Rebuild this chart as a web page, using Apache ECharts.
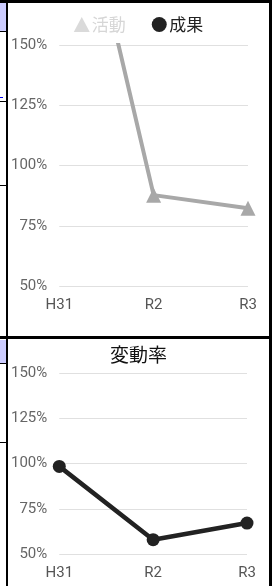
<!DOCTYPE html>
<html>
<head>
<meta charset="utf-8">
<script src="https://cdn.jsdelivr.net/npm/echarts@6/dist/echarts.min.js"></script>
<style>
  html, body { margin: 0; padding: 0; background: #fff; }
  #page { position: relative; width: 272px; height: 586px; overflow: hidden; }
  .bk { position: absolute; background: #000; }
  .cell { position: absolute; left: 0; width: 6px; background: #ccccff; }
  .thin { position: absolute; left: 0; width: 6px; height: 1px; background: #000; }
  #chart1 { position: absolute; left: 8px; top: 3px; width: 261px; height: 333px; }
  #chart2 { position: absolute; left: 8px; top: 339px; width: 261px; height: 247px; }
</style>
</head>
<body>
<div id="page">
  <div class="cell" style="top:3px;height:28px"></div>
  <div class="cell" style="top:340px;height:23px"></div>
  <div class="thin" style="top:31px"></div>
  <div class="thin" style="top:101px"></div>
  <div class="thin" style="top:185px"></div>
  <div class="thin" style="top:363px"></div>
  <div class="thin" style="top:442px"></div>
  <div style="position:absolute;left:0;top:97px;width:3px;height:1px;background:#00e"></div>
  <div id="chart1"></div>
  <div id="chart2"></div>
  <div class="bk" style="left:0;top:0;width:272px;height:3px"></div>
  <div class="bk" style="left:6px;top:0;width:2px;height:586px"></div>
  <div class="bk" style="left:269px;top:0;width:3px;height:586px"></div>
  <div class="bk" style="left:0;top:336px;width:272px;height:3px"></div>
</div>
<script>
// 年度
const years = ['H31', 'R2', 'R3']
// 上のグラフ: 活動 (H31 は上限の外)
const katsudo = [255, 87.7, 82.3]
// 上のグラフ: 成果 (表示範囲に点なし)
const seika = [null, null, null]
// 変動率
const hendoritsu = [98.4, 57.9, 67.1]
// 目盛り
const yMin = 50
const yMax = 150
const yStep = 25

const labelFont = "'Liberation Sans Narrow', 'Roboto', sans-serif"
const jpFont = "'Noto Sans CJK JP', sans-serif"

const yAxisBase = () => ({
    type: 'value',
    min: yMin,
    max: yMax,
    interval: yStep,
    axisLine: { show: false },
    axisTick: { show: false },
    axisLabel: {
        formatter: '{value}%',
        color: '#666',
        fontSize: 15,
        fontFamily: labelFont,
        margin: 12,
    },
    splitLine: { lineStyle: { color: '#e0e0e0', width: 1 } },
})

const xAxisBase = () => ({
    type: 'category',
    data: years,
    boundaryGap: false,
    axisLine: { show: false },
    axisTick: { show: false },
    axisLabel: {
        color: '#555',
        fontSize: 15,
        fontFamily: labelFont,
        margin: 12,
    },
})

// 上: 活動・成果
const chart1 = echarts.init(document.getElementById('chart1'))
chart1.setOption({
    animation: false,
    legend: {
        top: 8,
        left: 'center',
        itemWidth: 16,
        itemHeight: 15,
        itemGap: 26,
        textStyle: { fontSize: 17, fontFamily: jpFont, padding: [0, 0, 0, -3] },
        data: [
            { name: '活動', icon: 'triangle', itemStyle: { color: '#dadada' }, textStyle: { color: '#d6d6d6' } },
            { name: '成果', icon: 'circle', itemStyle: { color: '#222' }, textStyle: { color: '#222' } },
        ],
    },
    grid: { left: 46, right: 21, top: 42, bottom: 50 },
    xAxis: xAxisBase(),
    yAxis: yAxisBase(),
    series: [
        {
            name: '活動',
            type: 'line',
            data: katsudo,
            symbol: 'triangle',
            symbolSize: 15,
            lineStyle: { color: '#a8a8a8', width: 4 },
            itemStyle: { color: '#a8a8a8' },
        },
        {
            name: '成果',
            type: 'line',
            data: seika,
            symbol: 'circle',
            symbolSize: 13,
            lineStyle: { color: '#222', width: 4 },
            itemStyle: { color: '#222' },
        },
    ],
})

// 下: 変動率
const chart2 = echarts.init(document.getElementById('chart2'))
chart2.setOption({
    animation: false,
    title: {
        text: '変動率',
        left: 'center',
        top: 1,
        textStyle: { fontSize: 19, fontWeight: 'normal', color: '#111', fontFamily: jpFont },
    },
    grid: { left: 47, right: 22, top: 34, bottom: 32 },
    xAxis: xAxisBase(),
    yAxis: yAxisBase(),
    series: [
        {
            name: '変動率',
            type: 'line',
            data: hendoritsu,
            symbol: 'circle',
            symbolSize: 13,
            lineStyle: { color: '#222', width: 4.5 },
            itemStyle: { color: '#222' },
        },
    ],
})
</script>
</body>
</html>
